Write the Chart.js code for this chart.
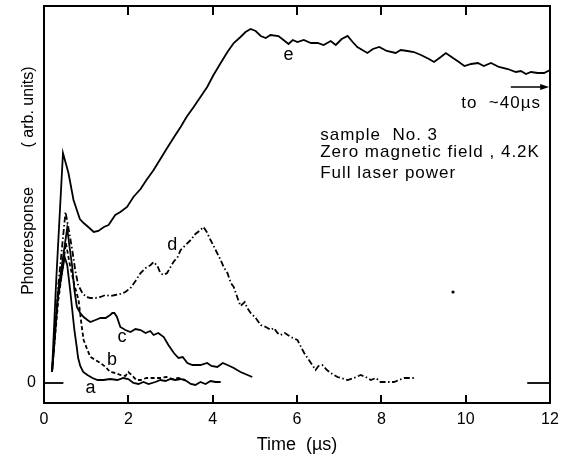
<!DOCTYPE html>
<html>
<head>
<meta charset="utf-8">
<script src="https://cdn.jsdelivr.net/npm/chart.js@4.4.1/dist/chart.umd.min.js"></script>
<style>
  html, body { margin: 0; padding: 0; background: #fff; }
  canvas { display: block; }
</style>
</head>
<body>
<canvas id="c" width="564" height="457"></canvas>
<script>
// ---------------- data (time in µs, response in arb. units) ----------------
const xTicks = [0, 2, 4, 6, 8, 10, 12];
const yTicks = [0];

const eTime = [0.19,0.29,0.45,0.58,0.70,0.85,0.94,1.05,1.18,1.29,1.42,1.53,1.69,1.81,1.97,2.12,2.29,2.43,2.60,2.76,2.92,3.07,3.24,3.38,3.55,3.71,3.87,4.02,4.19,4.35,4.50,4.66,4.78,4.90,5.02,5.14,5.26,5.37,5.56,5.68,5.80,5.90,6.01,6.16,6.33,6.49,6.63,6.80,6.92,7.06,7.20,7.32,7.43,7.67,7.80,7.95,8.13,8.34,8.46,8.62,8.77,8.94,9.13,9.25,9.41,9.53,9.70,9.84,9.97,10.13,10.29,10.43,10.60,10.79,11.00,11.19,11.31,11.43,11.55,11.71,11.86,12.0];
const eResp = [1.1,10.3,23.0,21.0,18.3,16.4,16.0,15.6,15.1,15.2,15.6,15.8,16.8,17.1,17.6,18.6,19.4,20.3,21.3,22.4,23.5,24.5,25.6,26.6,27.6,28.6,29.6,30.8,32.0,33.1,34.0,34.6,35.1,35.4,35.2,34.7,34.5,34.8,34.7,34.3,33.9,34.3,34.1,34.3,34.0,34.0,33.8,34.2,33.8,34.4,34.7,34.1,33.6,33.0,33.4,33.6,33.2,33.0,33.3,33.2,33.1,32.8,32.4,32.1,32.6,33.0,32.5,32.1,31.7,31.9,32.0,31.7,32.0,31.6,31.4,31.1,31.2,30.9,31.1,31.0,31.0,31.3];

const dTime = [0.19,0.34,0.51,0.58,0.67,0.74,0.81,0.91,1.00,1.10,1.22,1.34,1.46,1.57,1.69,1.81,1.93,2.05,2.17,2.29,2.41,2.53,2.60,2.69,2.76,2.83,2.92,3.00,3.07,3.17,3.24,3.36,3.48,3.59,3.71,3.78,3.86,3.95,4.07,4.19,4.26,4.35,4.43,4.50,4.59,4.66,4.76,4.82,4.90,5.02,5.14,5.26,5.38,5.45,5.54,5.61,5.71,5.85,6.01,6.17,6.33,6.44,6.51,6.60,6.71,6.80,6.96,7.20,7.35,7.51,7.63,7.75,7.87,7.98,8.13,8.30,8.42,8.54,8.82];
const dResp = [1.1,9.8,17.1,15.5,13.3,11.3,9.8,9.0,8.6,8.5,8.5,8.6,8.8,8.7,8.8,8.9,9.1,9.5,10.2,11.0,11.5,11.8,12.1,11.7,11.0,10.8,11.0,11.6,12.1,12.6,13.3,13.8,14.3,14.9,15.3,15.6,15.1,14.3,13.3,12.3,11.6,11.0,10.0,9.6,8.5,7.7,8.1,7.5,7.0,6.5,5.8,5.6,5.3,5.5,5.0,4.8,5.0,4.6,4.3,3.0,2.0,1.3,1.7,1.8,1.3,1.0,0.6,0.3,0.5,0.8,0.6,0.3,0.5,0.1,0.1,0.1,0.3,0.5,0.5];

const cTime = [0.19,0.34,0.55,0.60,0.67,0.72,0.78,0.86,0.94,1.03,1.10,1.22,1.34,1.46,1.57,1.62,1.67,1.73,1.81,1.93,2.05,2.17,2.29,2.41,2.52,2.60,2.71,2.84,2.95,3.08,3.19,3.29,3.40,3.52,3.71,3.87,3.97,4.11,4.24,4.35,4.50,4.66,4.94];
const cResp = [1.1,9.3,15.5,13.8,11.6,9.3,7.6,7.0,6.6,6.3,6.1,6.3,6.5,6.5,6.8,7.0,7.0,6.6,5.6,5.3,5.1,5.4,5.3,5.0,5.2,4.8,5.0,4.6,3.8,3.0,2.5,2.6,2.0,1.8,1.8,2.0,1.7,1.6,2.0,1.8,1.5,1.1,0.6];

const bTime = [0.19,0.34,0.52,0.60,0.72,0.82,0.89,0.94,1.03,1.10,1.22,1.34,1.46,1.57,1.69,1.81,1.93,2.00,2.10,2.19,2.29,2.43,2.57,2.76,2.90,3.05,3.19,3.36];
const bResp = [1.1,8.3,14.0,12.1,9.8,8.3,5.8,4.3,3.3,2.6,2.3,2.0,1.6,1.1,1.0,0.8,0.7,1.1,0.7,0.3,0.3,0.5,0.5,0.5,0.6,0.4,0.5,0.3];

const aTime = [0.19,0.32,0.49,0.55,0.62,0.67,0.72,0.77,0.81,0.86,0.93,1.03,1.15,1.27,1.41,1.57,1.74,1.88,2.00,2.12,2.24,2.36,2.48,2.64,2.76,2.88,3.00,3.12,3.24,3.38,3.48,3.59,3.71,3.83,3.95,4.07,4.19];
const aResp = [1.1,8.3,12.6,11.8,9.3,7.3,5.3,3.8,2.5,1.7,1.1,0.8,0.5,0.3,0.3,0.4,0.3,0.5,0.4,0.0,-0.1,0.1,-0.1,0.1,0.3,0.2,0.4,0.3,0.4,0.2,-0.1,-0.2,0.1,-0.1,0.2,0.1,0.1];

const zeroLeftTime = [0, 0.46];
const zeroRightTime = [11.46, 12];
const zeroResp = [0, 0];
const specTime = [9.70];
const specResp = [9.1];

const curveLabels = ['e', 'd', 'c', 'b', 'a'];
const curveLabelTime = [5.80, 3.04, 1.85, 1.61, 1.10];
const curveLabelResp = [32.8, 13.8, 4.6, 2.3, -0.5];

const noteLines = ['sample  No. 3', 'Zero magnetic field , 4.2K', 'Full laser power'];
const noteTime = 6.55;
const noteResp = [24.75, 23.05, 21.0];
const arrowText = 'to  ~40\u00b5s';
const arrowTime = [11.07, 11.98];
const arrowResp = 29.6;
const arrowTextTime = 10.84;
const arrowTextResp = 27.95;

const xTitle = 'Time  (\u00b5s)';
const yTitleA = 'Photoresponse';
const yTitleB = '( arb. units)';

// ---------------- chart ----------------
const FONT = '"Liberation Sans", Arial, sans-serif';
const pts = (xs, ys) => xs.map((v, i) => ({ x: v, y: ys[i] }));
const line = (data, dash) => ({
  data, borderColor: '#000', borderWidth: 1.8, borderDash: dash || [],
  pointRadius: 0, tension: 0, fill: false
});

// frame: top edge, right edge and inward ticks
const framePlugin = {
  id: 'framePlugin',
  afterDraw(chart) {
    const ctx = chart.ctx;
    const x = chart.scales.x, y = chart.scales.y;
    const left = x.left, right = x.right, top = y.top, bottom = y.bottom;
    ctx.save();
    ctx.fillStyle = '#000';
    ctx.fillRect(right - 1, top - 1, 2, bottom - top + 2);
    xTicks.slice(1, -1).forEach(v => {
      const px = Math.round(x.getPixelForValue(v));
      ctx.fillRect(px - 1, bottom - 8, 2, 8);
      ctx.fillRect(px - 1, top, 2, 9);
    });
    ctx.fillRect(left - 1, top - 1, right - left + 2, 2);
    ctx.restore();
  }
};

// annotations: arrow and text
const notesPlugin = {
  id: 'notesPlugin',
  afterDraw(chart) {
    const ctx = chart.ctx;
    const x = chart.scales.x, y = chart.scales.y;
    ctx.save();
    ctx.fillStyle = '#000';
    const ax0 = x.getPixelForValue(arrowTime[0]), ax1 = x.getPixelForValue(arrowTime[1]);
    const ay = y.getPixelForValue(arrowResp);
    ctx.fillRect(ax0, ay - 0.75, ax1 - ax0 - 6, 1.5);
    ctx.beginPath(); ctx.moveTo(ax1, ay); ctx.lineTo(ax1 - 9, ay - 3); ctx.lineTo(ax1 - 9, ay + 3); ctx.closePath(); ctx.fill();
    ctx.textBaseline = 'middle';
    ctx.font = '17px ' + FONT;
    ctx.letterSpacing = '1px';
    ctx.textAlign = 'center';
    ctx.fillText(arrowText, x.getPixelForValue(arrowTextTime), y.getPixelForValue(arrowTextResp));
    ctx.textAlign = 'left';
    noteLines.forEach((t, i) => ctx.fillText(t, x.getPixelForValue(noteTime), y.getPixelForValue(noteResp[i])));
    ctx.letterSpacing = '0px';
    ctx.font = '18px ' + FONT;
    ctx.textAlign = 'center';
    curveLabels.forEach((t, i) => ctx.fillText(t, x.getPixelForValue(curveLabelTime[i]), y.getPixelForValue(curveLabelResp[i])));
    ctx.font = '16px ' + FONT;
    ctx.translate(29, 0);
    ctx.rotate(-Math.PI / 2);
    ctx.fillText(yTitleA, -241, 0);
    ctx.fillText(yTitleB, -107, 0);
    ctx.restore();
  }
};

new Chart(document.getElementById('c'), {
  type: 'line',
  data: {
    datasets: [
      line(pts(eTime, eResp)),
      line(pts(dTime, dResp), [6, 2.5, 1.5, 2.5]),
      line(pts(cTime, cResp)),
      line(pts(bTime, bResp), [4, 2.5]),
      line(pts(aTime, aResp)),
      line(pts(zeroLeftTime, zeroResp)),
      line(pts(zeroRightTime, zeroResp)),
      { data: pts(specTime, specResp), showLine: false, pointRadius: 1.6, pointBackgroundColor: '#000', pointBorderWidth: 0 }
    ]
  },
  options: {
    responsive: false,
    animation: false,
    events: [],
    layout: { padding: { left: 0, right: 14, top: 6, bottom: 0 } },
    plugins: { legend: { display: false }, tooltip: { enabled: false } },
    scales: {
      x: {
        type: 'linear', min: 0, max: 12,
        afterBuildTicks: s => { s.ticks = xTicks.map(v => ({ value: v })); },
        afterFit: s => { s.height = 54; s.paddingLeft = 0; s.paddingRight = 0; },
        grid: { display: false, drawTicks: false },
        border: { display: true, color: '#000', width: 2 },
        ticks: { color: '#000', font: { family: FONT, size: 16 }, padding: 7, maxRotation: 0 },
        title: { display: true, text: xTitle, color: '#000', font: { family: FONT, size: 18 }, padding: { top: 0, bottom: 1 } }
      },
      y: {
        type: 'linear', min: -2.0, max: 37.7,
        afterBuildTicks: s => { s.ticks = yTicks.map(v => ({ value: v })); },
        afterFit: s => { s.width = 44; s.paddingTop = 0; s.paddingBottom = 0; },
        grid: { display: false, drawTicks: false },
        border: { display: true, color: '#000', width: 2 },
        ticks: { color: '#000', font: { family: FONT, size: 16 }, padding: 8 }
      }
    }
  },
  plugins: [framePlugin, notesPlugin]
});
</script>
</body>
</html>
